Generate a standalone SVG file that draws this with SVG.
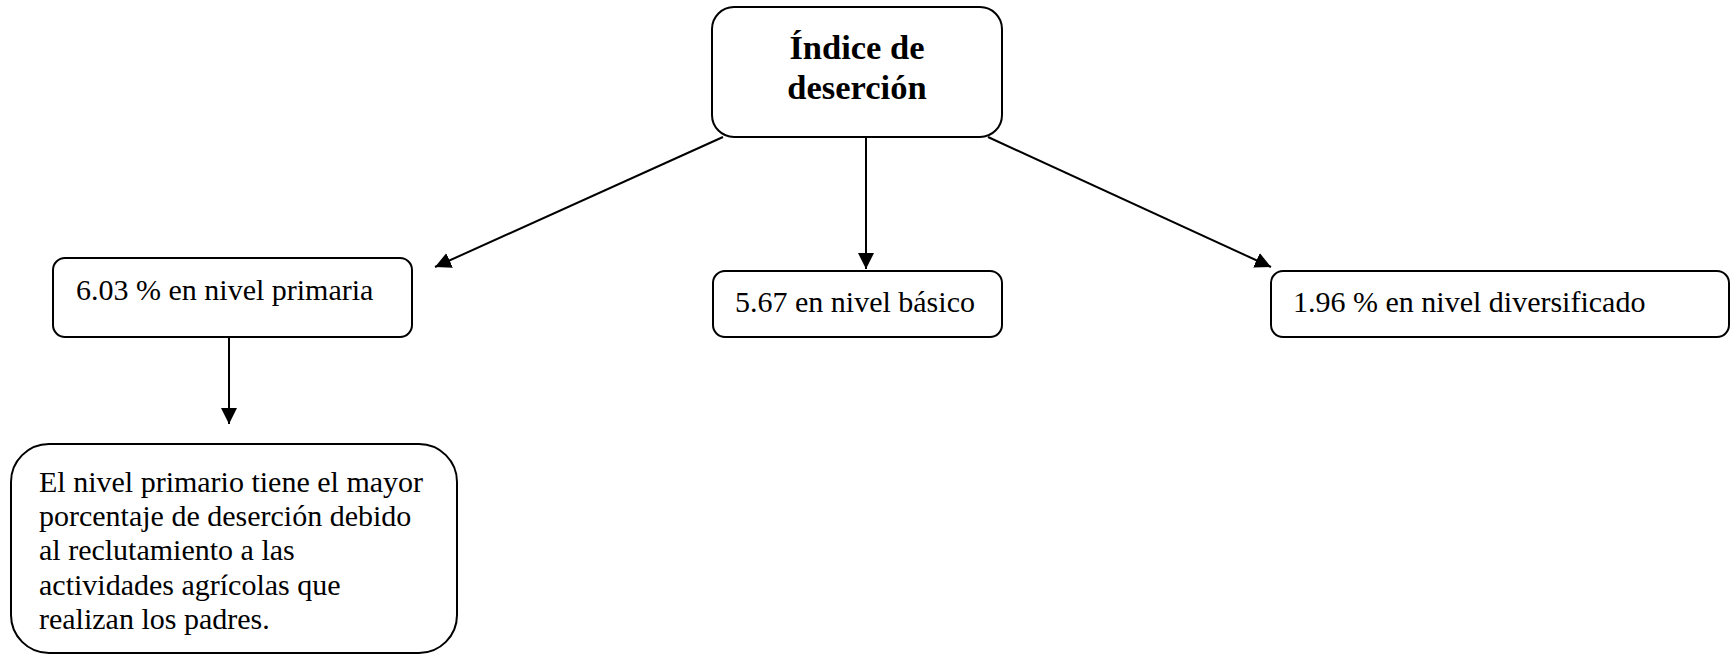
<svg xmlns="http://www.w3.org/2000/svg" width="1731" height="655" viewBox="0 0 1731 655">
<style>
.box{fill:#fff;stroke:#000;stroke-width:2}
.t{font-family:"Liberation Serif","Times New Roman",serif;font-size:30px;fill:#000}
.tb{font-family:"Liberation Serif","Times New Roman",serif;font-size:34.5px;font-weight:bold;fill:#000}
.edge{stroke:#000;stroke-width:2;fill:none;marker-end:url(#ah)}
</style>
<defs>
<marker id="ah" viewBox="0 0 10 10" refX="10" refY="5" markerWidth="8" markerHeight="8" orient="auto" markerUnits="strokeWidth">
<path d="M0,0 L10,5 L0,10 z" fill="#000"/>
</marker>
</defs>
<rect width="1731" height="655" fill="#fff"/>
<g id="connectors">
<line class="edge" x1="723" y1="137" x2="435" y2="267"/>
<line class="edge" x1="866" y1="137" x2="866" y2="269"/>
<line class="edge" x1="988" y1="137" x2="1271" y2="267"/>
<line class="edge" x1="229" y1="337" x2="229" y2="424"/>
</g>
<g id="n-indice">
<rect class="box" x="712" y="7" width="290" height="130" rx="22"/>
<text class="tb" x="857" y="59" text-anchor="middle">Índice de</text>
<text class="tb" x="857" y="99" text-anchor="middle">deserción</text>
</g>
<g id="n-primaria">
<rect class="box" x="53" y="258" width="359" height="79" rx="12"/>
<text class="t" x="76" y="300">6.03 % en nivel primaria</text>
</g>
<g id="n-basico">
<rect class="box" x="713" y="271" width="289" height="66" rx="12"/>
<text class="t" x="735" y="312">5.67 en nivel básico</text>
</g>
<g id="n-diversificado">
<rect class="box" x="1271" y="271" width="458" height="66" rx="12"/>
<text class="t" x="1293" y="312">1.96 % en nivel diversificado</text>
</g>
<g id="n-explicacion">
<rect class="box" x="11" y="444" width="446" height="209" rx="38"/>
<text class="t" x="39" y="492">El nivel primario tiene el mayor</text>
<text class="t" x="39" y="526">porcentaje de deserción debido</text>
<text class="t" x="39" y="560">al reclutamiento a las</text>
<text class="t" x="39" y="595">actividades agrícolas que</text>
<text class="t" x="39" y="629">realizan los padres.</text>
</g>
</svg>
